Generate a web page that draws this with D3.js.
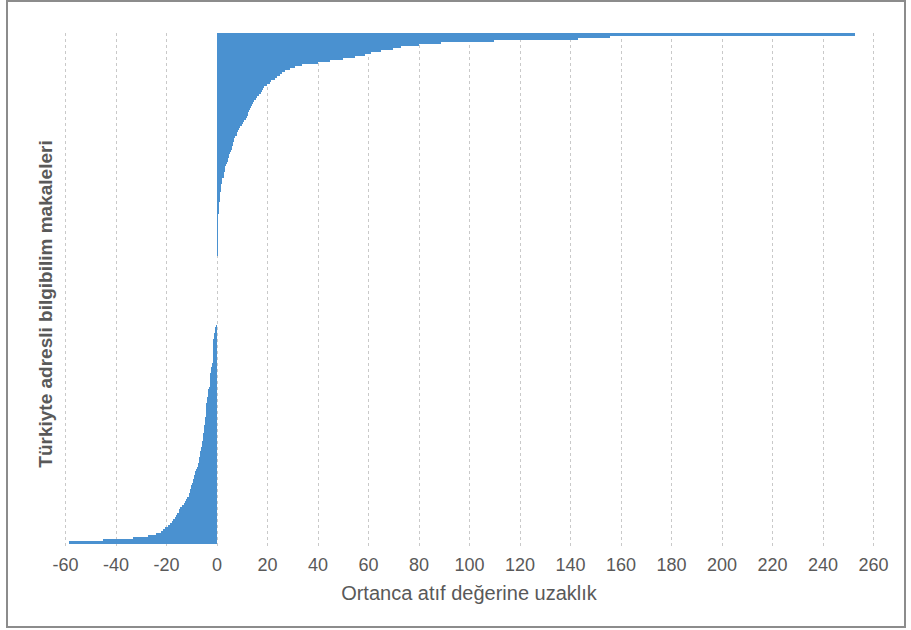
<!DOCTYPE html>
<html><head><meta charset="utf-8">
<script src="https://cdn.jsdelivr.net/npm/d3@7"></script>
<style>body{margin:0;background:#fff}svg{display:block}</style>
</head><body><svg id="c" width="911" height="630"></svg>
<script>
// Sorted distances from the median citation value, one per article (top to bottom)
const positiveValues = [
  253,156,143,110,89,80,73,70,65,61,59,55,50,45,40,34,31,29,27,26,
  25,24,23,21.5,21,20,19,18.5,18,17.5,17,16,15.5,15,14.5,14,13.5,13.2,13,12.5,
  12.3,12,11.5,11,10.5,10,9.5,9,8.5,8.2,8,7.2,7,6.8,6.6,6.4,6,6,5.8,5.5,
  5,4.8,4.6,4.4,4.2,3.6,3.4,3.3,3.2,3.1,3,2.8,2.2,2,2,1.9,1.9,1.8,1.6,
  1.4,1.3,1.3,1.2,1.2,1.1,0.9,0.9,0.8,0.8,0.8,
  0.6,0.6,0.6,0.5,0.5,0.5,0.5,0.5,0.5,0.4,0.4,0.4,0.4,0.4,0.4,0.4,0.3,0.3,0.3,0.3,0.3
];
const zeroValues = [0,0,0,0,0,0,0,0,0,0,0,0,0,0,0,0,0,0,0,0,0,0,0,0,0,0,0,0,0,0,0,0,0,0,0];
const negativeValues = [
  -0.3,-0.4,-0.5,-0.6,
  -1.0,-1.1,-1.1,-1.2,-1.2,-1.2,-1.2,-1.2,-1.3,-1.3,-1.3,-1.3,-1.3,-1.4,-1.5,
  -1.6,-1.7,
  -2.2,-2.3,-2.3,-2.4,-2.4,-2.4,-2.5,-2.5,-2.6,-2.7,
  -3.1,-3.2,-3.2,-3.3,-3.4,
  -3.8,-3.9,-3.9,-4.0,-4.0,-4.0,-4.1,-4.2,-4.2,-4.3,-4.4,-4.5,
  -4.7,-4.7,-4.8,-4.8,-4.9,-5.0,
  -5.3,-5.4,-5.5,-5.5,-5.6,-5.7,-5.8,-6.0,-6.2,
  -6.5,-6.6,-6.7,-6.8,-6.9,-7.0,-7.2,-7.4,-7.7,-8.0,
  -8.4,-8.6,-8.8,-9.0,-9.2,-9.4,-9.7,-10.0,
  -10.2,-10.4,-10.6,-10.8,-11.0,-11.5,
  -12.2,-12.6,-13.0,-13.5,
  -14.5,-14.8,-15.0,-15.5,-16.0,-16.5,
  -17.2,-17.8,-18.5,-19.2,
  -20.5,-21,-22,-24,-27,-33,-45,-58.5
];
const xTicks = [-60,-40,-20,0,20,40,60,80,100,120,140,160,180,200,220,240,260];
const xTitle = "Ortanca atıf değerine uzaklık";
const yTitle = "Türkiyte adresli bilgibilim makaleleri";

const values = positiveValues.concat(zeroValues, negativeValues);
const rows = values.map((v, i) => ({v, i}));

const svg = d3.select("#c");
svg.append("rect").attr("x",7).attr("y",1).attr("width",898).attr("height",626)
  .attr("fill","#fff").attr("stroke","#8c8c8c").attr("stroke-width",2);

const x = d3.scaleLinear().domain([-60,260]).range([65,873]);
const y = d3.scaleBand().domain(d3.range(values.length)).range([33,543]).padding(0);

// gridlines
svg.append("g").selectAll("line").data(xTicks).join("line")
  .attr("x1",d=>Math.round(x(d))+0.5).attr("x2",d=>Math.round(x(d))+0.5)
  .attr("y1",33).attr("y2",546)
  .attr("stroke","#c9c9c9").attr("stroke-width",1).attr("stroke-dasharray","3,3");

// bars
svg.append("g").attr("shape-rendering","crispEdges").selectAll("rect")
  .data(rows.filter(r => r.v !== 0)).join("rect")
  .attr("x",r=>x(Math.min(0,r.v)))
  .attr("width",r=>Math.max(1,Math.abs(x(r.v)-x(0))))
  .attr("y",r=>y(r.i))
  .attr("height",y.bandwidth()+0.5)
  .attr("fill","#4a91d0");

// axis
const axis = d3.axisBottom(x).tickValues(xTicks).tickSize(0).tickPadding(0).tickFormat(d=>String(d));
const ga = svg.append("g").attr("transform","translate(0,558)").call(axis);
ga.select(".domain").remove();
ga.selectAll("text").attr("dy","0.71em").attr("fill","#595959")
  .style("font-family","'Liberation Sans',Arial,sans-serif").style("font-size","18px");

svg.append("text").attr("x",469).attr("y",600).attr("text-anchor","middle")
  .attr("fill","#595959").style("font-family","'Liberation Sans',Arial,sans-serif")
  .style("font-size","20px").text(xTitle);

svg.append("text").attr("transform","translate(52,304) rotate(-90)").attr("text-anchor","middle")
  .attr("fill","#595959").style("font-family","'Liberation Sans',Arial,sans-serif")
  .style("font-size","19px").style("font-weight","bold").text(yTitle);
</script></body></html>
